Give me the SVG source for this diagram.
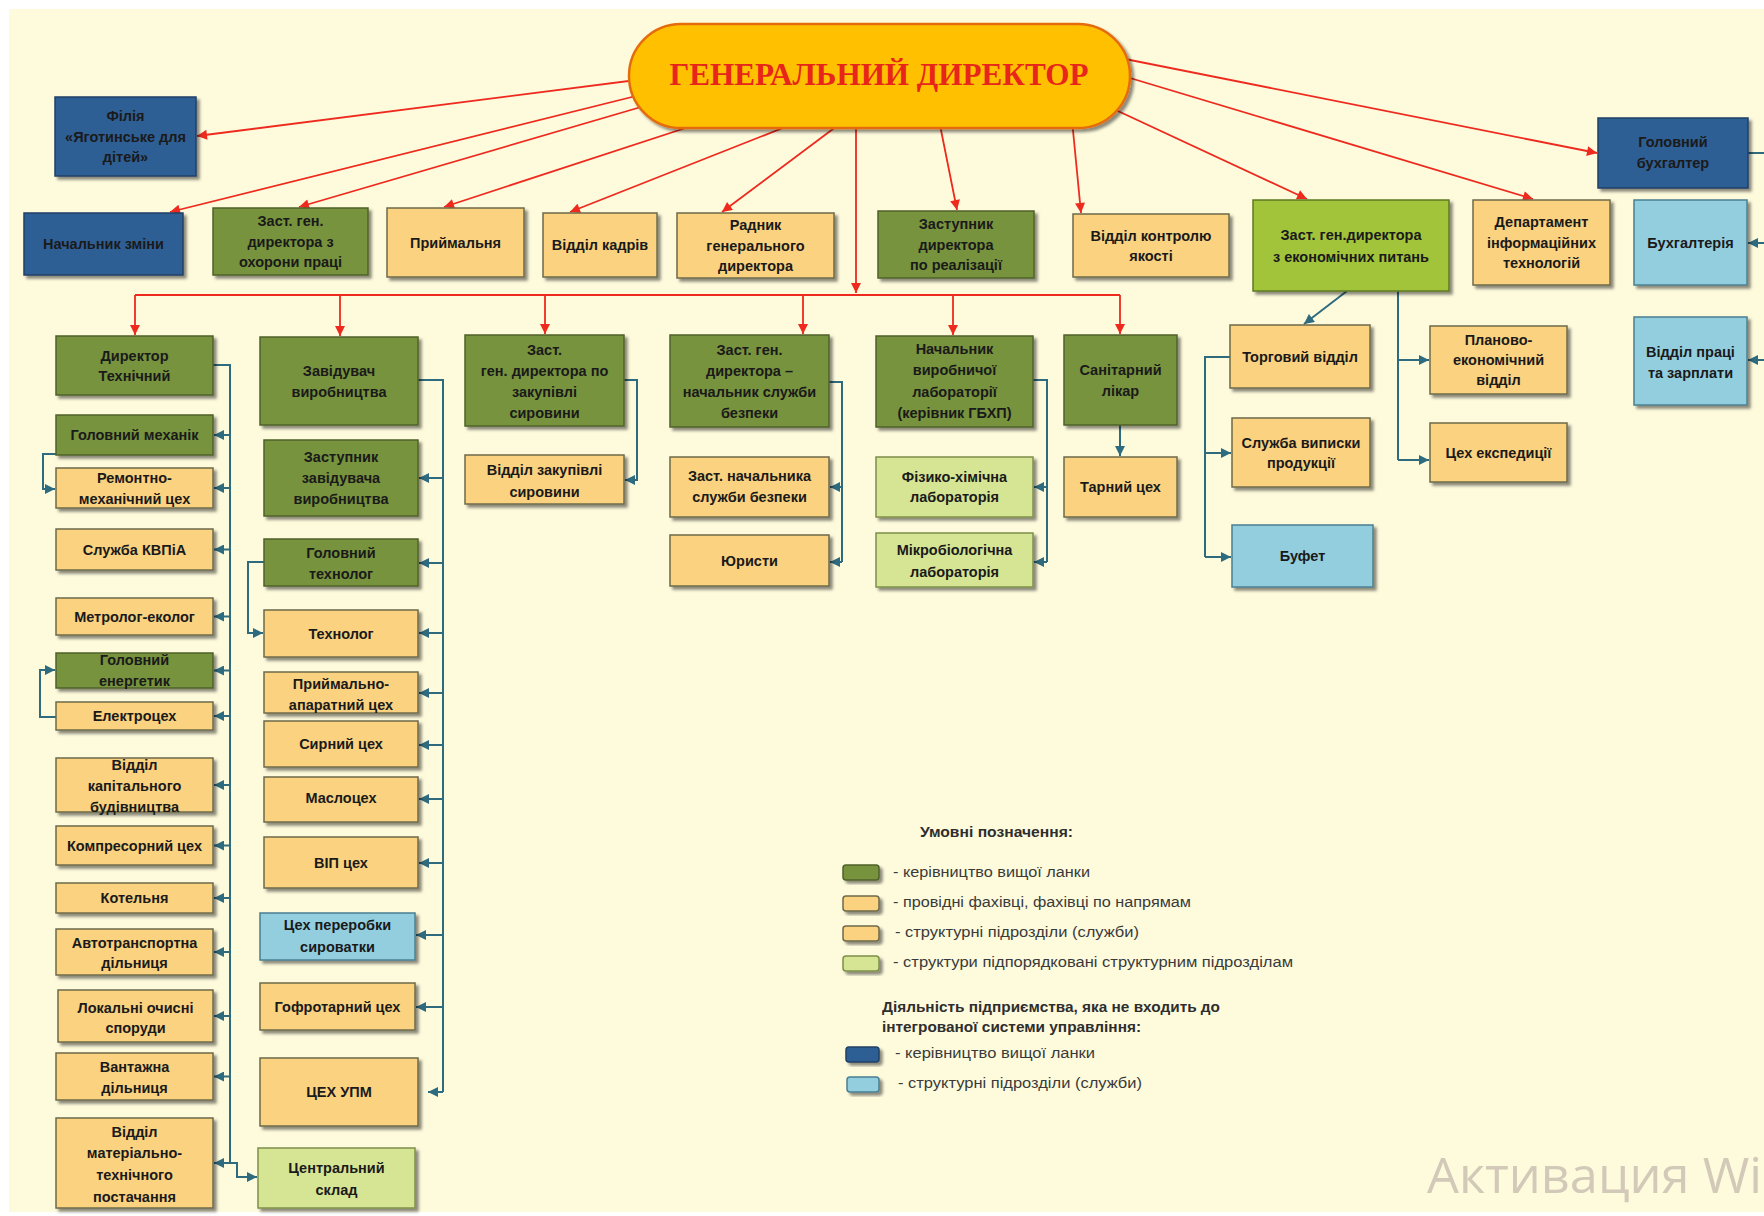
<svg xmlns="http://www.w3.org/2000/svg" width="1764" height="1216" viewBox="0 0 1764 1216">
<defs>
<filter id="sh" x="-10%" y="-10%" width="130%" height="140%">
<feDropShadow dx="3" dy="3" stdDeviation="1.5" flood-color="#000" flood-opacity="0.45"/>
</filter>
<marker id="ar" viewBox="0 0 10 10" refX="10" refY="5" markerWidth="11" markerHeight="10" markerUnits="userSpaceOnUse" orient="auto"><path d="M0,0 L10,5 L0,10 z" fill="#EE2A1E"/></marker>
<marker id="at" viewBox="0 0 10 10" refX="10" refY="5" markerWidth="11" markerHeight="10" markerUnits="userSpaceOnUse" orient="auto"><path d="M0,0 L10,5 L0,10 z" fill="#2F6B7F"/></marker>
<style>
rect.n{stroke-width:1.5;filter:url(#sh)}
.g{fill:#77933C;stroke:#4F6228}
.o{fill:#FBD280;stroke:#6E6A4A}
.lg{fill:#D6E594;stroke:#7E8F4A}
.bg{fill:#A2C43A;stroke:#5E7A22}
.db{fill:#2F5F94;stroke:#1F3F66}
.lb{fill:#93CEDF;stroke:#4A7F92}
text.t{font-family:"Liberation Sans",Arial,sans-serif;font-weight:bold;font-size:14.5px;fill:#1A1A1A;text-anchor:middle}
.red{fill:none;stroke:#EE2A1E;stroke-width:1.8;marker-end:url(#ar)}
.redl{fill:none;stroke:#EE2A1E;stroke-width:1.8}
.tl{fill:none;stroke:#2F6B7F;stroke-width:2}
.ta{fill:none;stroke:#2F6B7F;stroke-width:2;marker-end:url(#at)}
text.lgd{font-family:"Liberation Sans",Arial,sans-serif;font-size:14px;fill:#3A3A3A}
text.lgb{font-family:"Liberation Sans",Arial,sans-serif;font-size:14px;font-weight:bold;fill:#2E2E2E}
rect.sw{stroke-width:1.5;filter:url(#sh)}
</style>
</defs>
<rect x="0" y="0" width="1764" height="1216" fill="#FFFFFF"/>
<rect x="9" y="9" width="1755" height="1203" fill="#FEFBDD"/>

<g id="connectors">
<path class="red" d="M660,77 L197,136"/>
<path class="red" d="M660,90 L170,212"/>
<path class="red" d="M665,100 L299,207"/>
<path class="red" d="M710,120 L444,207"/>
<path class="red" d="M803,120 L570,212"/>
<path class="red" d="M845,120 L722,212"/>
<path class="red" d="M939,120 L957,210"/>
<path class="red" d="M1072,120 L1081,213"/>
<path class="red" d="M1105,105 L1307,199"/>
<path class="red" d="M1110,72 L1533,199"/>
<path class="red" d="M1110,56 L1597,153"/>
<path class="red" d="M856,120 V293"/>
<path class="redl" d="M135,295 H1120"/>
<path class="red" d="M135,295 V335"/>
<path class="red" d="M340,295 V336"/>
<path class="red" d="M545,295 V334"/>
<path class="red" d="M803,295 V334"/>
<path class="red" d="M953,295 V335"/>
<path class="red" d="M1120,295 V334"/>
<path class="tl" d="M213,365 H230 V1163"/>
<path class="ta" d="M230,435 H214"/>
<path class="ta" d="M230,488 H214"/>
<path class="ta" d="M230,549.5 H214"/>
<path class="ta" d="M230,616.5 H214"/>
<path class="ta" d="M230,670.5 H214"/>
<path class="ta" d="M230,716 H214"/>
<path class="ta" d="M230,785 H214"/>
<path class="ta" d="M230,845.5 H214"/>
<path class="ta" d="M230,898 H214"/>
<path class="ta" d="M230,952 H214"/>
<path class="ta" d="M230,1016 H214"/>
<path class="ta" d="M230,1076.5 H214"/>
<path class="ta" d="M230,1163 H214"/>
<path class="ta" d="M230,1163 H237 V1177 H257"/>
<path class="ta" d="M56,454 H43 V489 H55"/>
<path class="ta" d="M56,717 H40 V670 H55"/>
<path class="tl" d="M418,380 H443 V1092"/>
<path class="ta" d="M443,478 H419"/>
<path class="ta" d="M443,563 H419"/>
<path class="ta" d="M443,633 H419"/>
<path class="ta" d="M443,693 H419"/>
<path class="ta" d="M443,745 H419"/>
<path class="ta" d="M443,799 H419"/>
<path class="ta" d="M443,863 H419"/>
<path class="ta" d="M443,935 H416"/>
<path class="ta" d="M443,1007 H416"/>
<path class="ta" d="M443,1092 H428"/>
<path class="ta" d="M264,562 H248 V633 H263"/>
<path class="ta" d="M624,380 H637 V480 H625"/>
<path class="tl" d="M829,382 H842 V562"/>
<path class="ta" d="M842,487 H830"/>
<path class="ta" d="M842,562 H830"/>
<path class="tl" d="M1033,380 H1047 V562"/>
<path class="ta" d="M1047,487 H1034"/>
<path class="ta" d="M1047,562 H1034"/>
<path class="ta" d="M1120,425 V456"/>
<path class="ta" d="M1347,291 L1304,324"/>
<path class="tl" d="M1398,291 V460"/>
<path class="ta" d="M1398,360 H1429"/>
<path class="ta" d="M1398,460 H1429"/>
<path class="tl" d="M1230,357 H1205 V557"/>
<path class="ta" d="M1205,453 H1231"/>
<path class="ta" d="M1205,557 H1231"/>
<path class="tl" d="M1748,153 H1770 V360"/>
<path class="ta" d="M1766,243 H1748"/>
<path class="ta" d="M1766,360 H1748"/>
</g>

<g id="n-gendir">
<rect x="629" y="24" width="501" height="104" rx="52" fill="#FFC000" stroke="#E46C0A" stroke-width="2.5" filter="url(#sh)"/>
<text x="879" y="85" font-family="'Liberation Serif','Times New Roman',serif" font-weight="bold" font-size="31" fill="#E8251A" text-anchor="middle" textLength="419" lengthAdjust="spacingAndGlyphs">ГЕНЕРАЛЬНИЙ ДИРЕКТОР</text>
</g>

<g id="n-filia"><rect class="n db" x="55" y="97" width="141" height="79"/><text class="t" x="125.5" y="121">Філія</text><text class="t" x="125.5" y="141.5">«Яготинське для</text><text class="t" x="125.5" y="162">дітей»</text></g>
<g id="n-nachzminy"><rect class="n db" x="24" y="213" width="159" height="62"/><text class="t" x="103.5" y="249">Начальник зміни</text></g>
<g id="n-ohorona"><rect class="n g" x="213" y="208" width="155" height="67"/><text class="t" x="290.5" y="226">Заст. ген.</text><text class="t" x="290.5" y="246.5">директора з</text><text class="t" x="290.5" y="267">охорони праці</text></g>
<g id="n-pryimalnia"><rect class="n o" x="387" y="208" width="137" height="69"/><text class="t" x="455.5" y="247.5">Приймальня</text></g>
<g id="n-kadry"><rect class="n o" x="543" y="213" width="114" height="64"/><text class="t" x="600" y="250">Відділ кадрів</text></g>
<g id="n-radnyk"><rect class="n o" x="677" y="213" width="157" height="65"/><text class="t" x="755.5" y="230">Радник</text><text class="t" x="755.5" y="250.5">генерального</text><text class="t" x="755.5" y="271">директора</text></g>
<g id="n-realiz"><rect class="n g" x="878" y="211" width="156" height="67"/><text class="t" x="956" y="229">Заступник</text><text class="t" x="956" y="249.5">директора</text><text class="t" x="956" y="270">по реалізації</text></g>
<g id="n-kontrol"><rect class="n o" x="1073" y="214" width="156" height="63"/><text class="t" x="1151" y="240.5">Відділ контролю</text><text class="t" x="1151" y="261">якості</text></g>
<g id="n-econ"><rect class="n bg" x="1253" y="200" width="196" height="91"/><text class="t" x="1351" y="240">Заст. ген.директора</text><text class="t" x="1351" y="262">з економічних питань</text></g>
<g id="n-it"><rect class="n o" x="1473" y="200" width="137" height="85"/><text class="t" x="1541.5" y="227">Департамент</text><text class="t" x="1541.5" y="248">інформаційних</text><text class="t" x="1541.5" y="268">технологій</text></g>
<g id="n-holbuh"><rect class="n db" x="1598" y="118" width="150" height="70"/><text class="t" x="1673" y="147">Головний</text><text class="t" x="1673" y="168">бухгалтер</text></g>
<g id="n-buh"><rect class="n lb" x="1634" y="200" width="113" height="85"/><text class="t" x="1690.5" y="247.5">Бухгалтерія</text></g>
<g id="n-pratsi"><rect class="n lb" x="1634" y="317" width="113" height="88"/><text class="t" x="1690.5" y="357">Відділ праці</text><text class="t" x="1690.5" y="378">та зарплати</text></g>

<g id="n-dirtech"><rect class="n g" x="56" y="336" width="157" height="59"/><text class="t" x="134.5" y="361">Директор</text><text class="t" x="134.5" y="381">Технічний</text></g>
<g id="n-mekhanik"><rect class="n g" x="56" y="415" width="157" height="40"/><text class="t" x="134.5" y="440">Головний механік</text></g>
<g id="n-remont"><rect class="n o" x="56" y="468" width="157" height="40"/><text class="t" x="134.5" y="483">Ремонтно-</text><text class="t" x="134.5" y="504">механічний цех</text></g>
<g id="n-kvpia"><rect class="n o" x="56" y="529" width="157" height="41"/><text class="t" x="134.5" y="554.5">Служба КВПіА</text></g>
<g id="n-metrolog"><rect class="n o" x="56" y="598" width="157" height="37"/><text class="t" x="134.5" y="621.5">Метролог-еколог</text></g>
<g id="n-energetyk"><rect class="n g" x="56" y="653" width="157" height="35"/><text class="t" x="134.5" y="665">Головний</text><text class="t" x="134.5" y="686">енергетик</text></g>
<g id="n-electro"><rect class="n o" x="56" y="702" width="157" height="28"/><text class="t" x="134.5" y="721">Електроцех</text></g>
<g id="n-kapbud"><rect class="n o" x="56" y="758" width="157" height="54"/><text class="t" x="134.5" y="770">Відділ</text><text class="t" x="134.5" y="791">капітального</text><text class="t" x="134.5" y="812">будівництва</text></g>
<g id="n-kompres"><rect class="n o" x="56" y="826" width="157" height="39"/><text class="t" x="134.5" y="850.5">Компресорний цех</text></g>
<g id="n-kotelnia"><rect class="n o" x="56" y="883" width="157" height="30"/><text class="t" x="134.5" y="903">Котельня</text></g>
<g id="n-avto"><rect class="n o" x="56" y="929" width="157" height="46"/><text class="t" x="134.5" y="948">Автотранспортна</text><text class="t" x="134.5" y="968">дільниця</text></g>
<g id="n-ochysni"><rect class="n o" x="58" y="990" width="155" height="52"/><text class="t" x="135.5" y="1013">Локальні очисні</text><text class="t" x="135.5" y="1033">споруди</text></g>
<g id="n-vantazh"><rect class="n o" x="56" y="1053" width="157" height="47"/><text class="t" x="134.5" y="1072">Вантажна</text><text class="t" x="134.5" y="1093">дільниця</text></g>
<g id="n-mtp"><rect class="n o" x="56" y="1118" width="157" height="90"/><text class="t" x="134.5" y="1137">Відділ</text><text class="t" x="134.5" y="1158">матеріально-</text><text class="t" x="134.5" y="1180">технічного</text><text class="t" x="134.5" y="1202">постачання</text></g>

<g id="n-zavvyr"><rect class="n g" x="260" y="337" width="158" height="88"/><text class="t" x="339" y="376">Завідувач</text><text class="t" x="339" y="397">виробництва</text></g>
<g id="n-zastzav"><rect class="n g" x="264" y="440" width="154" height="76"/><text class="t" x="341" y="462">Заступник</text><text class="t" x="341" y="483">завідувача</text><text class="t" x="341" y="504">виробництва</text></g>
<g id="n-holtekh"><rect class="n g" x="264" y="539" width="154" height="47"/><text class="t" x="341" y="558">Головний</text><text class="t" x="341" y="579">технолог</text></g>
<g id="n-tekhnolog"><rect class="n o" x="264" y="610" width="154" height="47"/><text class="t" x="341" y="639">Технолог</text></g>
<g id="n-priapar"><rect class="n o" x="264" y="672" width="154" height="41"/><text class="t" x="341" y="689">Приймально-</text><text class="t" x="341" y="710">апаратний цех</text></g>
<g id="n-syrnyi"><rect class="n o" x="264" y="721" width="154" height="46"/><text class="t" x="341" y="749">Сирний цех</text></g>
<g id="n-maslo"><rect class="n o" x="264" y="777" width="154" height="45"/><text class="t" x="341" y="803">Маслоцех</text></g>
<g id="n-vip"><rect class="n o" x="264" y="837" width="154" height="51"/><text class="t" x="341" y="868">ВІП цех</text></g>
<g id="n-syrovatka"><rect class="n lb" x="260" y="913" width="155" height="47"/><text class="t" x="337.5" y="930">Цех переробки</text><text class="t" x="337.5" y="952">сироватки</text></g>
<g id="n-hofro"><rect class="n o" x="260" y="983" width="155" height="47"/><text class="t" x="337.5" y="1012">Гофротарний цех</text></g>
<g id="n-upm"><rect class="n o" x="260" y="1058" width="158" height="68"/><text class="t" x="339" y="1097">ЦЕХ УПМ</text></g>
<g id="n-sklad"><rect class="n lg" x="258" y="1148" width="157" height="60"/><text class="t" x="336.5" y="1173">Центральний</text><text class="t" x="336.5" y="1195">склад</text></g>

<g id="n-zakup"><rect class="n g" x="465" y="335" width="159" height="91"/><text class="t" x="544.5" y="355">Заст.</text><text class="t" x="544.5" y="376">ген. директора по</text><text class="t" x="544.5" y="397">закупівлі</text><text class="t" x="544.5" y="418">сировини</text></g>
<g id="n-vidzakup"><rect class="n o" x="465" y="455" width="159" height="49"/><text class="t" x="544.5" y="475">Відділ закупівлі</text><text class="t" x="544.5" y="497">сировини</text></g>

<g id="n-bezpeka"><rect class="n g" x="670" y="335" width="159" height="92"/><text class="t" x="749.5" y="355">Заст. ген.</text><text class="t" x="749.5" y="376">директора –</text><text class="t" x="749.5" y="397">начальник служби</text><text class="t" x="749.5" y="418">безпеки</text></g>
<g id="n-zastbez"><rect class="n o" x="670" y="457" width="159" height="60"/><text class="t" x="749.5" y="481">Заст. начальника</text><text class="t" x="749.5" y="502">служби безпеки</text></g>
<g id="n-yurysty"><rect class="n o" x="670" y="535" width="159" height="51"/><text class="t" x="749.5" y="566">Юристи</text></g>

<g id="n-lab"><rect class="n g" x="876" y="336" width="157" height="91"/><text class="t" x="954.5" y="354">Начальник</text><text class="t" x="954.5" y="375">виробничої</text><text class="t" x="954.5" y="397">лабораторії</text><text class="t" x="954.5" y="418">(керівник ГБХП)</text></g>
<g id="n-fizkhim"><rect class="n lg" x="876" y="457" width="157" height="60"/><text class="t" x="954.5" y="482">Фізико-хімічна</text><text class="t" x="954.5" y="502">лабораторія</text></g>
<g id="n-mikro"><rect class="n lg" x="876" y="533" width="157" height="54"/><text class="t" x="954.5" y="555">Мікробіологічна</text><text class="t" x="954.5" y="577">лабораторія</text></g>

<g id="n-likar"><rect class="n g" x="1064" y="335" width="113" height="90"/><text class="t" x="1120.5" y="375">Санітарний</text><text class="t" x="1120.5" y="396">лікар</text></g>
<g id="n-tarnyi"><rect class="n o" x="1064" y="457" width="113" height="60"/><text class="t" x="1120.5" y="492">Тарний цех</text></g>

<g id="n-torg"><rect class="n o" x="1230" y="325" width="140" height="63"/><text class="t" x="1300" y="362">Торговий відділ</text></g>
<g id="n-vypysky"><rect class="n o" x="1232" y="418" width="138" height="69"/><text class="t" x="1301" y="448">Служба виписки</text><text class="t" x="1301" y="468">продукції</text></g>
<g id="n-bufet"><rect class="n lb" x="1232" y="525" width="141" height="62"/><text class="t" x="1302.5" y="561">Буфет</text></g>
<g id="n-planek"><rect class="n o" x="1430" y="326" width="137" height="68"/><text class="t" x="1498.5" y="345">Планово-</text><text class="t" x="1498.5" y="365">економічний</text><text class="t" x="1498.5" y="385">відділ</text></g>
<g id="n-ekspedytsia"><rect class="n o" x="1430" y="423" width="137" height="59"/><text class="t" x="1498.5" y="458">Цех експедиції</text></g>

<g id="legend">
<text class="lgb" x="920" y="837" textLength="153" lengthAdjust="spacingAndGlyphs">Умовні позначення:</text>
<rect class="sw g" x="843" y="865" width="36" height="15" rx="3"/>
<text class="lgd" x="893" y="877" textLength="197" lengthAdjust="spacingAndGlyphs">- керівництво вищої ланки</text>
<rect class="sw o" x="843" y="896" width="36" height="15" rx="3"/>
<text class="lgd" x="893" y="907" textLength="298" lengthAdjust="spacingAndGlyphs">- провідні фахівці, фахівці по напрямам</text>
<rect class="sw o" x="843" y="926" width="36" height="15" rx="3"/>
<text class="lgd" x="895" y="937" textLength="244" lengthAdjust="spacingAndGlyphs">- структурні підрозділи (служби)</text>
<rect class="sw lg" x="843" y="956" width="36" height="15" rx="3"/>
<text class="lgd" x="893" y="967" textLength="400" lengthAdjust="spacingAndGlyphs">- структури підпорядковані структурним підрозділам</text>
<text class="lgb" x="882" y="1012" textLength="338" lengthAdjust="spacingAndGlyphs">Діяльність підприємства, яка не входить до</text>
<text class="lgb" x="882" y="1032" textLength="259" lengthAdjust="spacingAndGlyphs">інтегрованої системи управління:</text>
<rect class="sw db" x="846" y="1047" width="33" height="15" rx="3"/>
<text class="lgd" x="895" y="1058" textLength="200" lengthAdjust="spacingAndGlyphs">- керівництво вищої ланки</text>
<rect class="sw lb" x="847" y="1077" width="32" height="15" rx="3"/>
<text class="lgd" x="898" y="1088" textLength="244" lengthAdjust="spacingAndGlyphs">- структурні підрозділи (служби)</text>
</g>

<text x="1427" y="1193" font-family="'Open Sans','Noto Sans',sans-serif" font-size="50" fill="#D3C9B8" textLength="335" lengthAdjust="spacingAndGlyphs">Активация Wi</text>
</svg>
